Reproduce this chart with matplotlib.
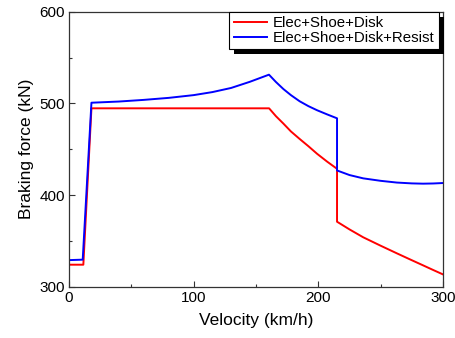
import matplotlib
matplotlib.use("Agg")
import matplotlib.pyplot as plt
from matplotlib.patches import Rectangle
from matplotlib.ticker import MultipleLocator

plt.rcParams['font.family'] = ['Liberation Sans', 'DejaVu Sans']

# Elec+Shoe+Disk
v_red = [0, 11.5, 18, 40, 80, 120, 160.5, 166, 172, 178, 185, 192, 199, 207, 215,
         215, 225, 236, 250, 263, 274, 284, 292, 300]
f_red = [324, 324, 494.6, 494.6, 494.6, 494.6, 494.6, 486.0, 477.9, 469.4, 461.2, 453.3, 445.0, 436.5, 428.6,
         370.9, 362.5, 353.9, 344.7, 336.4, 329.5, 323.3, 318.3, 313.4]

# Elec+Shoe+Disk+Resist
v_blue = [0, 11, 18, 40, 60, 80, 100, 115, 130, 145, 160.4, 166, 172, 178, 185, 192, 199, 207, 215,
          215, 225, 236, 250, 263, 275, 284, 292, 300]
f_blue = [329, 329.5, 500.7, 502, 503.8, 506, 509, 512.3, 516.8, 523.5, 531.3, 523.3, 515.6, 509, 502.3, 497, 492.5, 488, 483.7,
          426.8, 421.8, 418.2, 415.5, 413.6, 412.7, 412.4, 412.6, 413.1]

labels = ['Elec+Shoe+Disk', 'Elec+Shoe+Disk+Resist']

fig = plt.figure(figsize=(4.56, 3.38), dpi=100)
ax = fig.add_axes([69/456, 1-286.7/338, (443-69)/456, (286.7-11.7)/338])

ax.plot(v_red, f_red, color='#ff0000', lw=1.4, label=labels[0])
ax.plot(v_blue, f_blue, color='#0000ff', lw=1.4, label=labels[1])

ax.set_xlim(0, 300)
ax.set_ylim(300, 600)
ax.xaxis.set_major_locator(MultipleLocator(100))
ax.xaxis.set_minor_locator(MultipleLocator(50))
ax.yaxis.set_major_locator(MultipleLocator(100))
ax.yaxis.set_minor_locator(MultipleLocator(50))
ax.tick_params(which='both', direction='in', top=False, right=False,
               color='#333333', width=0.8)
ax.tick_params(which='major', length=4, labelsize=11, pad=3)
ax.tick_params(which='minor', length=2.5)
for s in ax.spines.values():
    s.set_color('#333333')
    s.set_linewidth(0.9)

ax.set_xlabel('Velocity (km/h)', fontsize=12.5, labelpad=6)
ax.set_ylabel('Braking force (kN)', fontsize=12.5, labelpad=4)

leg = ax.legend(loc='upper right', bbox_to_anchor=(1 - 4/374, 1.0),
                borderaxespad=0, fancybox=False, framealpha=1,
                edgecolor='black', fontsize=10.8, handlelength=2.2,
                handletextpad=0.4, labelspacing=0.05, borderpad=0.3)
leg.get_frame().set_linewidth(0.8)

fig.canvas.draw()
bb = leg.get_window_extent()
shadow = Rectangle((bb.x0 + 5, bb.y0 - 5), bb.width, bb.height, transform=None,
                   facecolor='black', edgecolor='none', zorder=4.9, clip_on=False)
ax.add_artist(shadow)

fig.savefig('out.png', dpi=100)
